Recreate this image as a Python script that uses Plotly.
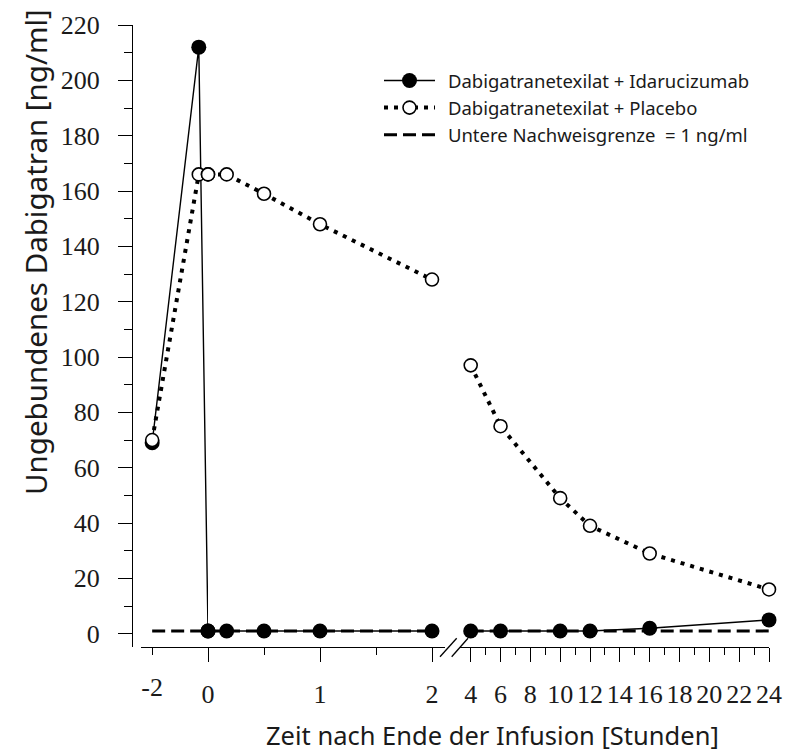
import plotly.graph_objects as go

# ---- data ----
hours = [-2, -0.33, 0, 1/6, 0.5, 1, 2, 4, 6, 10, 12, 16, 24]
idarucizumab = [69, 212, 1, 1, 1, 1, 1, 1, 1, 1, 1, 2, 5]
placebo = [70, 166, 166, 166, 159, 148, 128, 97, 75, 49, 39, 29, 16]
limit_value = 1
limit_hours = [-2, 24]

series_names = ["Dabigatranetexilat + Idarucizumab",
                "Dabigatranetexilat + Placebo",
                "Untere Nachweisgrenze  = 1 ng/ml"]

ytick_vals = list(range(0, 221, 20))
x1_ticks, x1_labels = [-2], ["-2"]
x2_ticks, x2_labels = [0, 1, 2], ["0", "1", "2"]
x2_minor = [0.5, 1.5]
x3_ticks = list(range(4, 25, 2))
x3_labels = [str(v) for v in x3_ticks]
x3_minor = list(range(5, 24, 2))

# axis segments (broken x axis)
segments = [("x", -2, 0), ("x2", 0, 2), ("x3", 4, 24)]

W, H = 786, 751
L, R, T, B = 132, 17, 25, 104
PW = W - L - R
PH = H - T - B

def px(xp):
    return (xp - L) / PW

def py(yp):
    return (T + PH - yp) / PH

fig = go.Figure()

BLACK = "#000000"
TXT = "#1a1a1a"
GAP = "\u00a0\u2009"

def split(xs, ys, lo, hi):
    pts = [(a, b) for a, b in zip(xs, ys) if lo <= a <= hi]
    return [p[0] for p in pts], [p[1] for p in pts]

# limit line
for i, (ax, lo, hi) in enumerate(segments):
    xs = [max(lo, limit_hours[0]), min(hi, limit_hours[1])]
    fig.add_trace(go.Scatter(
        x=xs, y=[limit_value, limit_value], xaxis=ax, yaxis="y", mode="lines",
        line=dict(color=BLACK, width=3, dash="13px,6px"),
        name=GAP + series_names[2], legendgroup="lim", showlegend=(i == 0),
        legendrank=3, cliponaxis=False, hoverinfo="skip"))

# Idarucizumab
for i, (ax, lo, hi) in enumerate(segments):
    xs, ys = split(hours, idarucizumab, lo, hi)
    fig.add_trace(go.Scatter(
        x=xs, y=ys, xaxis=ax, yaxis="y", mode="lines+markers",
        line=dict(color=BLACK, width=1.4),
        marker=dict(size=15, color=BLACK, line=dict(width=0)),
        name=GAP + series_names[0], legendgroup="ida", showlegend=(i == 0),
        legendrank=1, cliponaxis=False))

# Placebo
for i, (ax, lo, hi) in enumerate(segments):
    xs, ys = split(hours, placebo, lo, hi)
    fig.add_trace(go.Scatter(
        x=xs, y=ys, xaxis=ax, yaxis="y", mode="lines+markers",
        line=dict(color=BLACK, width=4, dash="4px,6px"),
        marker=dict(size=13, color="white", line=dict(width=1.6, color=BLACK)),
        name=GAP + series_names[1], legendgroup="pla", showlegend=(i == 0),
        legendrank=2, cliponaxis=False))

tickfont = dict(family="Liberation Serif", size=26, color=TXT)

common_x = dict(anchor="y", showline=True, linecolor=BLACK, linewidth=1.3,
                ticks="outside", tickcolor=BLACK, tickwidth=1.3, ticklen=14,
                tickmode="array", showgrid=False, zeroline=False,
                tickfont=tickfont, ticklabelstandoff=10, fixedrange=True)

fig.update_layout(
    width=W, height=H,
    margin=dict(l=L, r=R, t=T, b=B, autoexpand=False),
    paper_bgcolor="white", plot_bgcolor="white",
    showlegend=True,
    legend=dict(x=px(379), y=py(62), xanchor="left", yanchor="top",
                font=dict(family="Noto Sans", size=18.5, color=TXT),
                bgcolor="rgba(0,0,0,0)", itemwidth=51, tracegroupgap=0,
                traceorder="normal"),
    xaxis=dict(domain=[px(141), px(208)], range=[-2.4, 0],
               tickvals=x1_ticks, ticktext=x1_labels, **{**common_x, "ticklen": 7}),
    xaxis2=dict(domain=[px(208), px(445)], range=[0, 237 / 112],
                tickvals=x2_ticks, ticktext=x2_labels,
                minor=dict(tickmode="array", tickvals=x2_minor, ticklen=7,
                           tickcolor=BLACK, tickwidth=1.3, ticks="outside", showgrid=False),
                **common_x),
    xaxis3=dict(domain=[px(460), 1.0], range=[4 - 10.7 / 14.915, 24],
                tickvals=x3_ticks, ticktext=x3_labels,
                minor=dict(tickmode="array", tickvals=x3_minor, ticklen=7,
                           tickcolor=BLACK, tickwidth=1.3, ticks="outside", showgrid=False),
                **common_x),
    yaxis=dict(domain=[0, 1], range=[-4.8, 220], anchor="free", position=0,
               showline=True, linecolor=BLACK, linewidth=1.3,
               ticks="outside", tickcolor=BLACK, tickwidth=1.3, ticklen=14,
               tickmode="array", tickvals=ytick_vals,
               minor=dict(dtick=10, tick0=0, ticklen=8, tickcolor=BLACK,
                          tickwidth=1.3, ticks="outside", showgrid=False),
               showgrid=False, zeroline=False, tickfont=tickfont,
               ticklabelstandoff=13, fixedrange=True),
    hovermode=False,
)

# axis break marks
for xa, xb in [(440, 456.7), (451.7, 468)]:
    fig.add_shape(type="line", xref="paper", yref="paper",
                  x0=px(xa), y0=py(656.7), x1=px(xb), y1=py(638.3),
                  line=dict(color=BLACK, width=1.3))

# axis titles
fig.add_annotation(text="Ungebundenes Dabigatran [ng/ml]", xref="paper", yref="paper",
                   x=px(35), y=py(252), xanchor="center", yanchor="middle",
                   textangle=-90, showarrow=False,
                   font=dict(family="Noto Sans", size=29.5, color=TXT))
fig.add_annotation(text="Zeit nach Ende der Infusion [Stunden]", xref="paper", yref="paper",
                   x=px(492), y=py(735), xanchor="center", yanchor="middle",
                   showarrow=False,
                   font=dict(family="Noto Sans", size=25.5, color=TXT))

fig.write_html("out.html",
               config={"displayModeBar": False},
               post_script="document.body.style.margin='0px';"
                           "document.body.style.overflow='hidden';")
